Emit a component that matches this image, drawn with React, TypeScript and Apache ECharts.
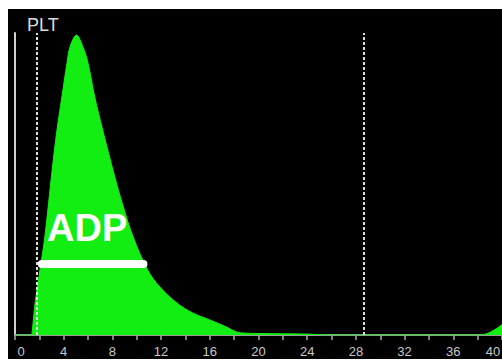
import React, { useEffect, useRef } from "react";
import * as echarts from "echarts";

const sizeFl = [0, 1.3, 1.4, 1.65, 2.05, 2.45, 3.05, 3.45, 3.85, 4.27, 4.52, 5.05, 5.58, 6.0, 6.55, 7.2, 8.2, 8.8, 9.7, 10.9, 11.9, 13.3, 14.6, 16.0, 17.4, 18.2, 19, 20, 22, 24, 26, 38, 38.8, 39.5, 40];
const counts = [0, 0, 0.7, 10.6, 21.5, 32.5, 54.6, 67.9, 78.8, 90, 95.4, 99.3, 95.4, 90, 78.8, 67.9, 52.3, 43.7, 32.5, 21.5, 15.9, 10.6, 7.3, 5, 2.6, 1, 0.6, 0.5, 0.4, 0.3, 0, 0, 0.5, 2, 3.5];
const discriminators = [1.8, 28.67];
const adpRange = [2.2, 10.55];
const adpLevel = 23.5;
const xTicks = [0, 4, 8, 12, 16, 20, 24, 28, 32, 36, 40];

export default function App() {
  const ref = useRef<HTMLDivElement>(null);
  useEffect(() => {
    if (!ref.current) return;
    const chart = echarts.init(ref.current, null, { renderer: "svg" });
    chart.setOption({
      animation: false,
      backgroundColor: "#000",
      grid: { left: 7, right: 0, top: 24, bottom: 24, containLabel: false, outerBoundsMode: "none" },
      xAxis: {
        type: "value",
        min: 0,
        max: 40,
        interval: 4,
        axisLine: { show: true, lineStyle: { color: "#9a9a9a", width: 2 } },
        axisTick: { show: true, length: 5, lineStyle: { color: "#aaa", width: 1.5 } },
        minorTick: { show: true, splitNumber: 2, length: 5, lineStyle: { color: "#aaa", width: 1.5 } },
        splitLine: { show: false },
        axisLabel: {
          color: "#c8c8c8",
          fontSize: 13,
          fontFamily: "Liberation Sans, Arial, sans-serif",
          margin: 10,
          formatter: (v: number) =>
            xTicks.includes(v) ? (v === 0 ? "{z|0}" : v === 40 ? "{e|40}" : String(v)) : "",
          rich: {
            z: { padding: [0, 0, 0, 12], color: "#c8c8c8", fontSize: 13 },
            e: { padding: [0, 18, 0, 0], color: "#c8c8c8", fontSize: 13 },
          },
        },
      },
      yAxis: {
        type: "value",
        min: 0,
        max: 100,
        axisLine: { show: true, lineStyle: { color: "#d0d0d0", width: 2 } },
        axisTick: { show: false },
        axisLabel: { show: false },
        splitLine: { show: false },
      },
      series: [
        {
          type: "line",
          data: sizeFl.map((x, i) => [x, counts[i]]),
          smooth: 0.35,
          symbol: "none",
          lineStyle: { color: "#12ee12", width: 1 },
          areaStyle: { color: "#12ee12", opacity: 1 },
          markLine: {
            silent: true,
            symbol: "none",
            label: { show: false },
            lineStyle: { color: "#dddddd", type: [3, 2], width: 2 },
            data: discriminators.map((x) => ({ xAxis: x })),
          },
          z: 2,
        },
        {
          type: "line",
          data: [
            [adpRange[0], adpLevel],
            [adpRange[1], adpLevel],
          ],
          symbol: "none",
          lineStyle: { color: "#ffffff", width: 8, cap: "round" },
          z: 5,
        },
      ],
      graphic: [
        {
          type: "text",
          left: 19,
          top: 7,
          style: {
            text: "PLT",
            fill: "#dddddd",
            fontSize: 18,
            fontFamily: "Liberation Sans, Arial, sans-serif",
          },
        },
        {
          type: "text",
          left: 39,
          top: 200,
          z: 10,
          style: {
            text: "ADP",
            fill: "#ffffff",
            fontSize: 38,
            fontWeight: "bold",
            fontFamily: "Liberation Sans, Arial, sans-serif",
          },
        },
      ],
    });
    return () => chart.dispose();
  }, []);
  return (
    <div
      ref={ref}
      style={{ position: "absolute", left: 8, top: 9, width: 494, height: 350 }}
    />
  );
}
